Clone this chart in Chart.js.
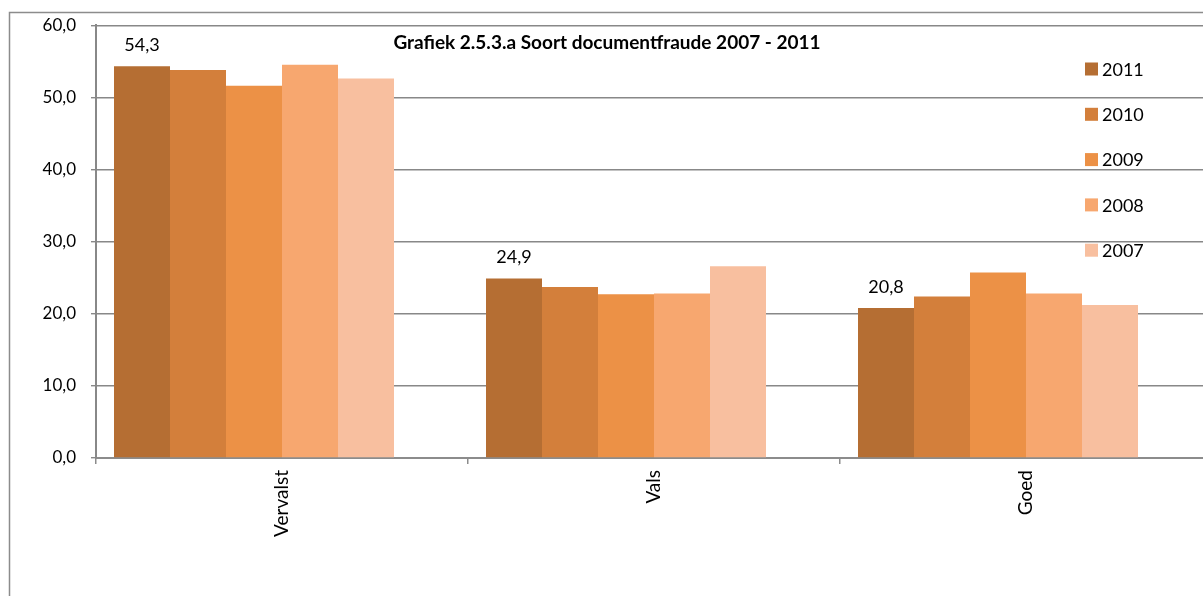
<!DOCTYPE html>
<html>
<head>
<meta charset="utf-8">
<script src="https://cdn.jsdelivr.net/npm/chart.js@4/dist/chart.umd.min.js"></script>
<style>
  html, body { margin: 0; padding: 0; background: #fff; overflow: hidden; }
  canvas { display: block; }
</style>
</head>
<body>
<canvas id="chart" width="1225" height="596"></canvas>
<script>
// categories and series
const categories = ['Vervalst', 'Vals', 'Goed'];
const years = ['2011', '2010', '2009', '2008', '2007'];
const values2011 = [54.3, 24.9, 20.8];
const values2010 = [53.8, 23.7, 22.4];
const values2009 = [51.6, 22.7, 25.7];
const values2008 = [54.5, 22.8, 22.8];
const values2007 = [52.6, 26.6, 21.2];
const yTicks = [0, 10, 20, 30, 40, 50, 60];
const colors = ['#B56E33', '#D37F3B', '#EC9146', '#F7A76F', '#F8BF9F'];

const FONT = 'Lato, "Open Sans", sans-serif';
const fmt = v => v.toFixed(1).replace('.', ',');

const series = [values2011, values2010, values2009, values2008, values2007];
const datasets = series.map((vals, i) => ({
  label: years[i],
  data: vals,
  backgroundColor: colors[i],
  borderWidth: 0
}));
// empty sixth slot, like the original sheet (keeps the groups shifted left)
datasets.push({ label: '', data: categories.map(() => null), backgroundColor: 'transparent' });

// outer frame of the chart object
const framePlugin = {
  id: 'frame',
  beforeDraw(chart) {
    const ctx = chart.ctx;
    ctx.save();
    ctx.strokeStyle = '#8c8c8c';
    ctx.lineWidth = 1.5;
    ctx.beginPath();
    ctx.moveTo(9.5, chart.height + 5);
    ctx.lineTo(9.5, 12.5);
    ctx.lineTo(chart.width + 5, 12.5);
    ctx.stroke();
    ctx.restore();
  }
};

// title, value labels for 2011 and legend inside the plot
const overlayPlugin = {
  id: 'overlay',
  afterDatasetsDraw(chart) {
    const ctx = chart.ctx;
    ctx.save();
    ctx.fillStyle = '#000';

    // title
    ctx.font = 'bold 19px ' + FONT;
    ctx.textAlign = 'center';
    ctx.textBaseline = 'middle';
    ctx.fillText('Grafiek 2.5.3.a Soort documentfraude 2007 - 2011', 607, 43);

    // labels on the first series
    ctx.font = '18px ' + FONT;
    const meta = chart.getDatasetMeta(0);
    meta.data.forEach((bar, i) => {
      ctx.fillText(fmt(values2011[i]), bar.x, bar.y - 21);
    });

    // legend
    ctx.textAlign = 'left';
    years.forEach((y, i) => {
      const cy = 69 + i * 45.3;
      ctx.fillStyle = colors[i];
      ctx.fillRect(1085, cy - 6.5, 13, 13);
      ctx.fillStyle = '#000';
      ctx.fillText(y, 1102, cy + 1);
    });
    ctx.restore();
  }
};

new Chart(document.getElementById('chart'), {
  type: 'bar',
  data: { labels: categories, datasets: datasets },
  options: {
    responsive: false,
    animation: false,
    layout: { padding: { left: 0, top: 24, right: 13, bottom: 0 } },
    datasets: { bar: { categoryPercentage: 336 / 372, barPercentage: 1 } },
    plugins: { legend: { display: false }, title: { display: false }, tooltip: { enabled: false } },
    scales: {
      x: {
        grid: { offset: true, drawOnChartArea: false, tickLength: 6, color: '#8c8c8c', lineWidth: 1.5 },
        border: { color: '#8c8c8c', width: 2 },
        ticks: { minRotation: 90, maxRotation: 90, padding: 6, color: '#000', font: { family: FONT, size: 19 } },
        afterFit: s => { s.height = 138; }
      },
      y: {
        min: 0,
        max: 60,
        afterBuildTicks: s => { s.ticks = yTicks.map(v => ({ value: v })); },
        grid: { color: '#888', lineWidth: 1.4, tickLength: 5 },
        border: { color: '#888', width: 2 },
        ticks: { padding: 15, color: '#000', font: { family: FONT, size: 17 }, callback: v => fmt(v) },
        afterFit: s => { s.width = 96; }
      }
    }
  },
  plugins: [framePlugin, overlayPlugin]
});
</script>
</body>
</html>
